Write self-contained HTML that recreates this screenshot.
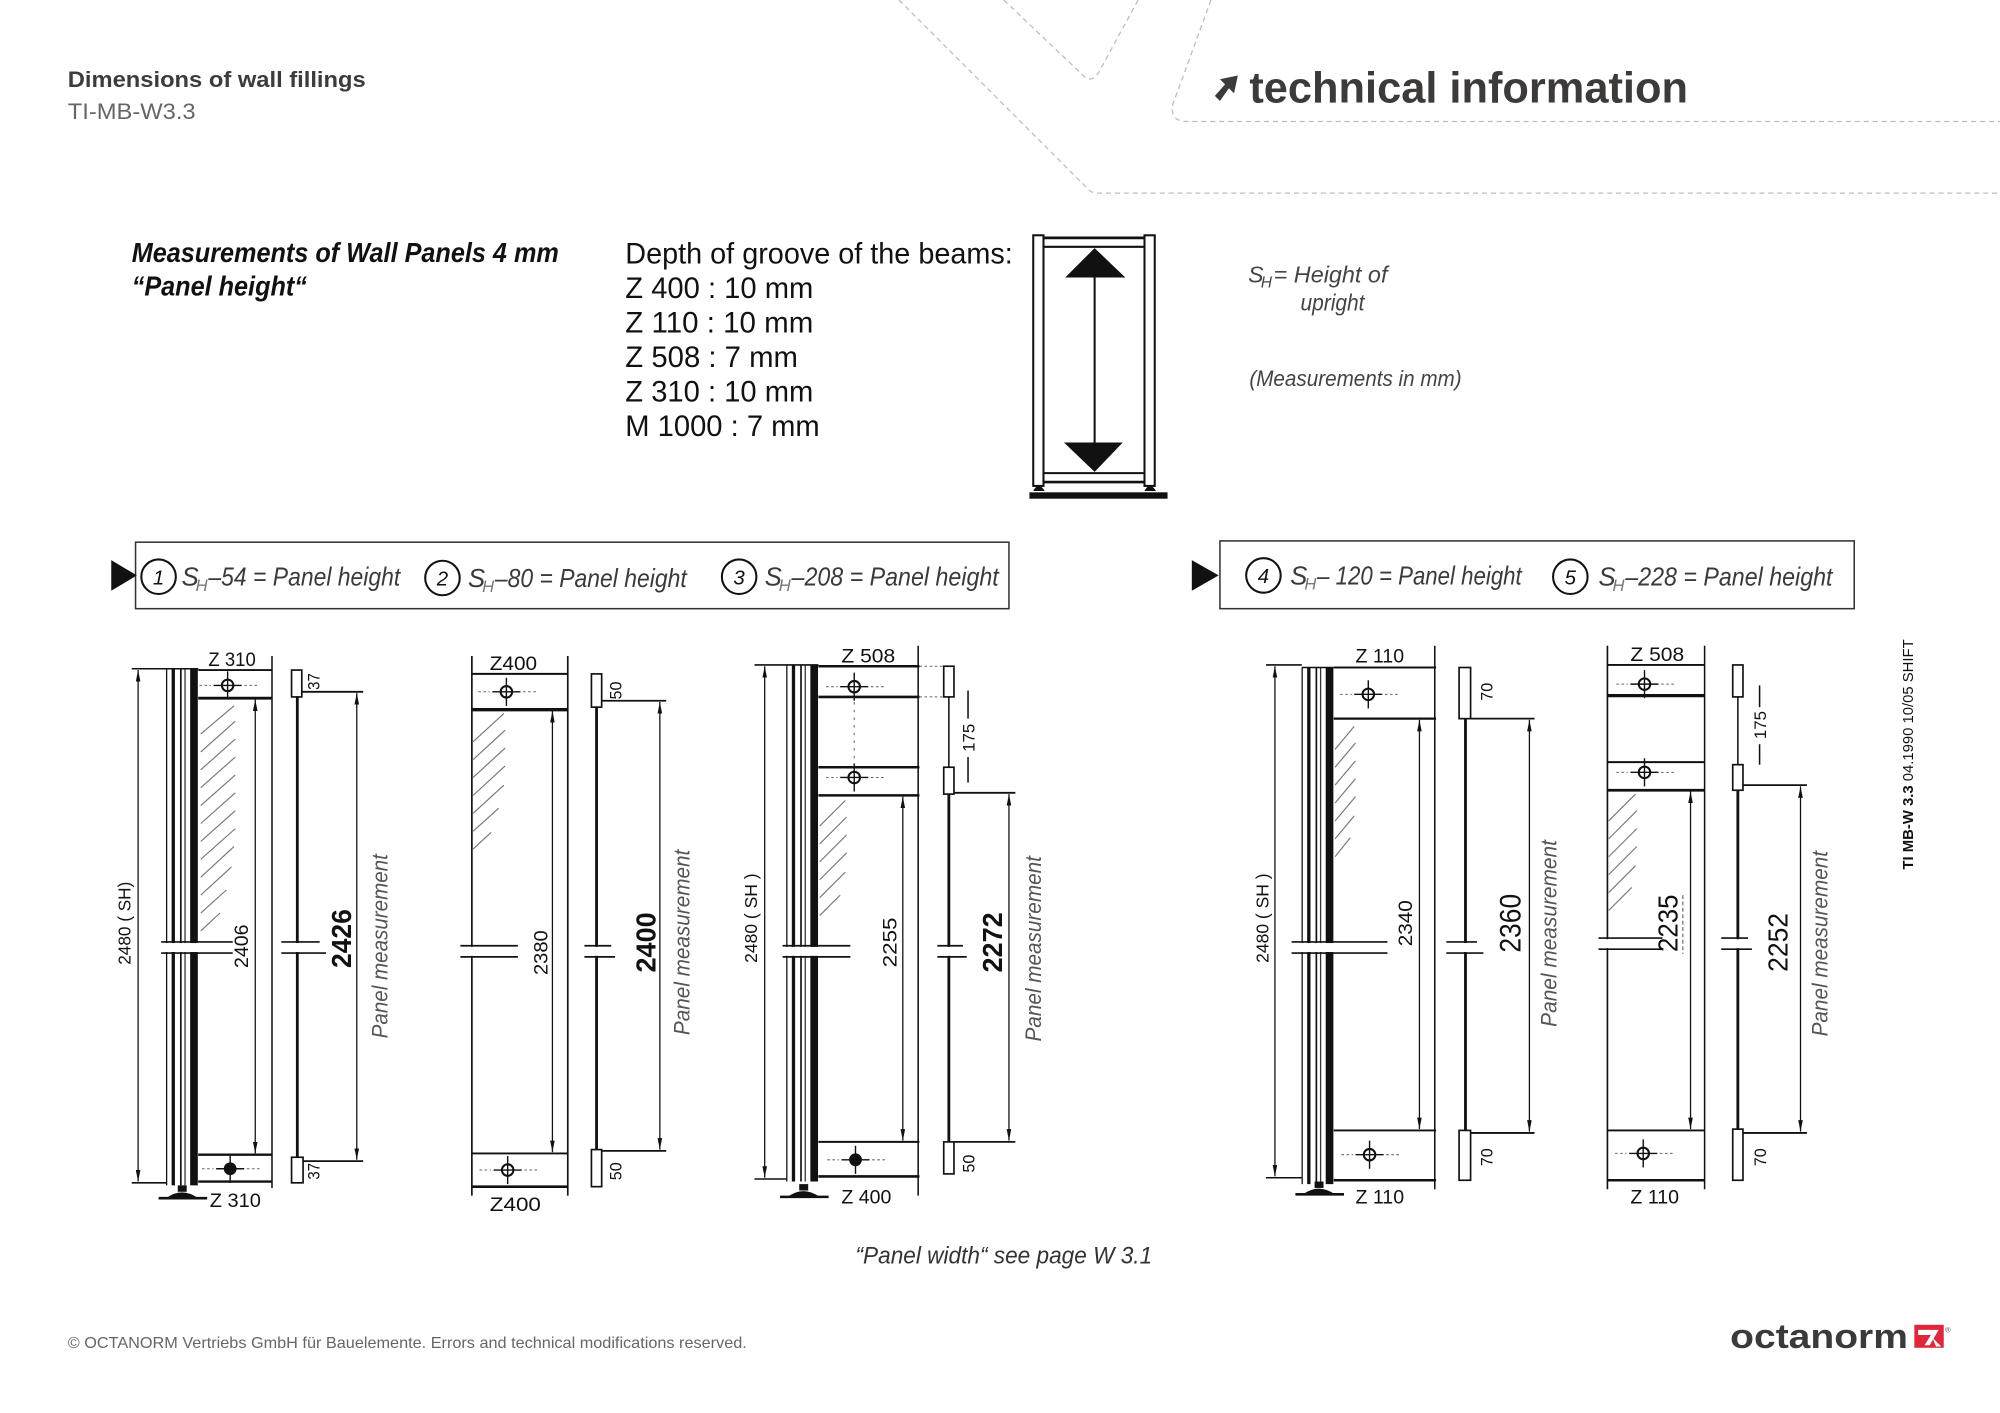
<!DOCTYPE html>
<html><head><meta charset="utf-8"><style>
html,body{margin:0;padding:0;background:#fff;}
svg{display:block;}
.d{stroke:#111;fill:none;}
.t{font-family:"Liberation Sans",sans-serif;fill:#111;}
.it{font-family:"Liberation Sans",sans-serif;font-style:italic;fill:#333;}
.pm{font-family:"Liberation Sans",sans-serif;font-style:italic;fill:#555;font-size:17px;}
.h{stroke:#777;stroke-width:0.9;fill:none;}
</style></head><body>
<svg width="2000" height="1413" viewBox="0 0 1564 1105" preserveAspectRatio="none" xmlns="http://www.w3.org/2000/svg">
<defs>
<marker id="ar" viewBox="0 0 10 4" refX="10" refY="2" markerWidth="9" markerHeight="3.6" markerUnits="userSpaceOnUse" orient="auto-start-reverse"><path d="M0,0 L10,2 L0,4 z" fill="#111"/></marker>
<g id="ch"><circle cx="0" cy="0" r="4.5" fill="none" stroke="#111" stroke-width="1.6"/><line x1="-11" y1="0" x2="11" y2="0" stroke="#111" stroke-width="1.1"/><line x1="0" y1="-11" x2="0" y2="11" stroke="#111" stroke-width="1.1"/><line x1="-22" y1="0" x2="-13" y2="0" stroke="#666" stroke-width="0.8" stroke-dasharray="2 2"/><line x1="13" y1="0" x2="24" y2="0" stroke="#666" stroke-width="0.8" stroke-dasharray="2 2"/></g>
<g id="chf"><circle cx="0" cy="0" r="5" fill="#111"/><line x1="-11" y1="0" x2="11" y2="0" stroke="#111" stroke-width="1.1"/><line x1="0" y1="-11" x2="0" y2="11" stroke="#111" stroke-width="1.1"/><line x1="-22" y1="0" x2="-13" y2="0" stroke="#666" stroke-width="0.8" stroke-dasharray="2 2"/><line x1="13" y1="0" x2="24" y2="0" stroke="#666" stroke-width="0.8" stroke-dasharray="2 2"/></g>
<g id="up">
<line x1="0.3" y1="0" x2="0.3" y2="404" stroke="#111" stroke-width="1"/>
<line x1="5.5" y1="0" x2="5.5" y2="404" stroke="#111" stroke-width="2.6"/>
<line x1="11.4" y1="0" x2="11.4" y2="404" stroke="#111" stroke-width="1.3"/>
<line x1="14.7" y1="0" x2="14.7" y2="404" stroke="#333" stroke-width="1"/>
<line x1="21.7" y1="0" x2="21.7" y2="404" stroke="#111" stroke-width="6"/>
<line x1="0" y1="0" x2="25" y2="0" stroke="#111" stroke-width="1.2"/>
</g>
<g id="foot">
<rect x="9" y="0" width="7" height="5" fill="#111"/>
<path d="M0,10 Q12,1 25,10 z" fill="#111"/>
<line x1="-6" y1="10" x2="32" y2="10" stroke="#111" stroke-width="2"/>
</g>
</defs>

<!-- decorative dashed header lines -->
<g stroke="#bdbdbd" stroke-width="1" fill="none" stroke-dasharray="4 3">
<path d="M703,0 L850,147 Q853,151 858,151 L1564,151"/>
<path d="M785,0 L846,58 Q853,66 859,57 L890,0"/>
<path d="M947,0 L917,82 Q915,95 928,95 L1564,95"/>
</g>

<!-- header -->
<text class="t" x="53" y="68" font-size="17" font-weight="bold" textLength="233" lengthAdjust="spacingAndGlyphs" style="fill:#3c3c3c">Dimensions of wall fillings</text>
<text class="t" x="53" y="93" font-size="17" textLength="100" lengthAdjust="spacingAndGlyphs" style="fill:#666">TI-MB-W3.3</text>
<path d="M950,75 L958,66 L954,62 L968,59 L965,73 L961,69 L954,79 z" fill="#3d3a3a"/>
<text class="t" x="977" y="80" font-size="34" font-weight="bold" textLength="343" lengthAdjust="spacingAndGlyphs" style="fill:#3d3a3a">technical information</text>

<!-- title block -->
<text class="t" x="103" y="205" font-size="22" font-weight="bold" font-style="italic" textLength="334" lengthAdjust="spacingAndGlyphs">Measurements of Wall Panels 4 mm</text>
<text class="t" x="103" y="231" font-size="22" font-weight="bold" font-style="italic" textLength="137" lengthAdjust="spacingAndGlyphs">“Panel height“</text>

<g class="t" font-size="23">
<text x="489" y="206" textLength="303" lengthAdjust="spacingAndGlyphs">Depth of groove of the beams:</text>
<text x="489" y="233" textLength="147" lengthAdjust="spacingAndGlyphs">Z 400 : 10 mm</text>
<text x="489" y="260" textLength="147" lengthAdjust="spacingAndGlyphs">Z 110 : 10 mm</text>
<text x="489" y="287" textLength="135" lengthAdjust="spacingAndGlyphs">Z 508 : 7 mm</text>
<text x="489" y="314" textLength="147" lengthAdjust="spacingAndGlyphs">Z 310 : 10 mm</text>
<text x="489" y="341" textLength="152" lengthAdjust="spacingAndGlyphs">M 1000 : 7 mm</text>
</g>

<!-- frame icon -->
<g>
<rect x="808" y="184" width="8" height="196" fill="#fff" stroke="#111" stroke-width="1.6"/>
<rect x="895" y="184" width="8" height="196" fill="#fff" stroke="#111" stroke-width="1.6"/>
<line x1="816" y1="186" x2="895" y2="186" stroke="#111" stroke-width="2.2"/>
<line x1="816" y1="193" x2="895" y2="193" stroke="#111" stroke-width="1.6"/>
<line x1="816" y1="370" x2="895" y2="370" stroke="#111" stroke-width="1.6"/>
<line x1="816" y1="377" x2="895" y2="377" stroke="#111" stroke-width="2"/>
<polygon points="856,194 833,217 880,217" fill="#111"/>
<polygon points="832,346 878,346 856,369" fill="#111"/>
<line x1="856" y1="216" x2="856" y2="347" stroke="#111" stroke-width="1.6"/>
<path d="M808,384 Q812,376 817,384 z" fill="#111"/>
<path d="M895,384 Q899,376 904,384 z" fill="#111"/>
<rect x="805" y="385" width="108" height="5" fill="#111"/>
</g>

<text class="it" x="976" y="221" font-size="18" style="fill:#444">S</text>
<text class="it" x="986" y="225" font-size="12" style="fill:#444">H</text>
<text class="it" x="996" y="221" font-size="18" textLength="89" lengthAdjust="spacingAndGlyphs" style="fill:#444">= Height of</text>
<text class="it" x="1017" y="243" font-size="18" textLength="50" lengthAdjust="spacingAndGlyphs" style="fill:#444">upright</text>
<text class="it" x="977" y="302" font-size="17" textLength="166" lengthAdjust="spacingAndGlyphs" style="fill:#444">(Measurements in mm)</text>

<!-- formula boxes -->
<rect x="106" y="424" width="683" height="52" fill="none" stroke="#333" stroke-width="1.2"/>
<polygon points="87,438 107,450 87,462" fill="#111"/>
<rect x="954" y="423" width="496" height="53" fill="none" stroke="#333" stroke-width="1.2"/>
<polygon points="932,438 953,450 932,462" fill="#111"/>
<g fill="none" stroke="#111" stroke-width="1.6">
<circle cx="124" cy="451" r="13.5"/><circle cx="346" cy="452" r="13.5"/><circle cx="578" cy="451" r="13.5"/>
<circle cx="988" cy="450" r="13.5"/><circle cx="1228" cy="451" r="13.5"/>
</g>
<g class="it" font-size="16" text-anchor="middle" style="fill:#111">
<text x="124" y="457">1</text><text x="346" y="458">2</text><text x="578" y="457">3</text><text x="988" y="456">4</text><text x="1228" y="457">5</text>
</g>
<g class="it" font-size="20" style="fill:#3a3a3a">
<text x="142" y="458">S</text><text x="153" y="462" font-size="13" style="fill:#777">H</text><text x="163" y="458" textLength="150" lengthAdjust="spacingAndGlyphs">–54 = Panel height</text>
<text x="366" y="459">S</text><text x="377" y="463" font-size="13" style="fill:#777">H</text><text x="387" y="459" textLength="150" lengthAdjust="spacingAndGlyphs">–80 = Panel height</text>
<text x="598" y="458">S</text><text x="609" y="462" font-size="13" style="fill:#777">H</text><text x="619" y="458" textLength="162" lengthAdjust="spacingAndGlyphs">–208 = Panel height</text>
<text x="1009" y="457">S</text><text x="1020" y="461" font-size="13" style="fill:#777">H</text><text x="1030" y="457" textLength="160" lengthAdjust="spacingAndGlyphs">– 120 = Panel height</text>
<text x="1250" y="458">S</text><text x="1261" y="462" font-size="13" style="fill:#777">H</text><text x="1271" y="458" textLength="162" lengthAdjust="spacingAndGlyphs">–228 = Panel height</text>
</g>

<!-- ================= PANEL 1 ================= -->
<g>
<line class="d" x1="103" y1="523" x2="130" y2="523" stroke-width="1.2"/>
<line class="d" x1="103" y1="925" x2="130" y2="925" stroke-width="1.2"/>
<line class="d" x1="108" y1="524" x2="108" y2="924" stroke-width="1" marker-start="url(#ar)" marker-end="url(#ar)"/>
<text class="t" transform="translate(102,722) rotate(-90)" text-anchor="middle" font-size="14" textLength="65" lengthAdjust="spacingAndGlyphs">2480 ( SH)</text>
<use href="#up" x="130" y="523"/>
<use href="#foot" x="130" y="927"/>
<g class="h">
<line x1="157" y1="574" x2="183" y2="552"/><line x1="157" y1="588" x2="184" y2="564"/><line x1="157" y1="602" x2="184" y2="578"/><line x1="157" y1="616" x2="184" y2="592"/><line x1="157" y1="630" x2="184" y2="606"/><line x1="157" y1="644" x2="184" y2="620"/><line x1="157" y1="658" x2="184" y2="634"/><line x1="157" y1="672" x2="184" y2="648"/><line x1="157" y1="686" x2="183" y2="662"/><line x1="157" y1="700" x2="181" y2="678"/><line x1="157" y1="714" x2="177" y2="696"/><line x1="157" y1="728" x2="172" y2="714"/>
</g>
<line class="d" x1="155" y1="524" x2="213" y2="524" stroke-width="1.5"/>
<line class="d" x1="155" y1="546" x2="213" y2="546" stroke-width="2.2"/>
<line class="d" x1="155" y1="903" x2="213" y2="903" stroke-width="1.8"/>
<line class="d" x1="155" y1="924" x2="213" y2="924" stroke-width="1.8"/>
<line class="d" x1="212.7" y1="513" x2="212.7" y2="929" stroke-width="1.2"/>
<use href="#ch" x="178" y="536"/>
<use href="#chf" x="180" y="914"/>
<text class="t" x="163" y="521" font-size="15" textLength="37" lengthAdjust="spacingAndGlyphs">Z 310</text>
<text class="t" x="164" y="944" font-size="15" textLength="40" lengthAdjust="spacingAndGlyphs">Z 310</text>
<line class="d" x1="199.6" y1="547" x2="199.6" y2="902" stroke-width="1" marker-start="url(#ar)" marker-end="url(#ar)"/>
<text class="t" transform="translate(194,740) rotate(-90)" text-anchor="middle" font-size="15" textLength="34" lengthAdjust="spacingAndGlyphs">2406</text>
<rect x="228" y="524" width="8" height="21" fill="#fff" stroke="#111" stroke-width="1.3"/>
<rect x="228" y="905" width="9" height="20" fill="#fff" stroke="#111" stroke-width="1.3"/>
<line class="d" x1="232.5" y1="545" x2="232.5" y2="905" stroke-width="2.2"/>
<text class="t" transform="translate(250,533) rotate(-90)" text-anchor="middle" font-size="13" textLength="13" lengthAdjust="spacingAndGlyphs">37</text>
<text class="t" transform="translate(250,916) rotate(-90)" text-anchor="middle" font-size="13" textLength="13" lengthAdjust="spacingAndGlyphs">37</text>
<line class="d" x1="236" y1="541" x2="284" y2="541" stroke-width="1.4"/>
<line class="d" x1="237" y1="908" x2="284" y2="908" stroke-width="1.4"/>
<line class="d" x1="279" y1="542" x2="279" y2="907" stroke-width="1" marker-start="url(#ar)" marker-end="url(#ar)"/>
<rect x="258" y="708" width="18" height="52" fill="#fff"/>
<text class="t" transform="translate(274.5,734) rotate(-90)" text-anchor="middle" font-size="22" font-weight="bold" textLength="46" lengthAdjust="spacingAndGlyphs">2426</text>
<text class="pm" transform="translate(303,740) rotate(-90)" text-anchor="middle" textLength="144" lengthAdjust="spacingAndGlyphs">Panel measurement</text>
<rect x="125" y="737.5" width="58" height="7" fill="#fff"/>
<line class="d" x1="126" y1="736.6" x2="182" y2="736.6" stroke-width="1.3"/>
<line class="d" x1="126" y1="745.3" x2="182" y2="745.3" stroke-width="1.3"/>
<rect x="222" y="737.5" width="32" height="7" fill="#fff"/>
<line class="d" x1="220" y1="736.6" x2="250" y2="736.6" stroke-width="1.3"/>
<line class="d" x1="220" y1="745.3" x2="255" y2="745.3" stroke-width="1.3"/>
</g>

<!-- ================= PANEL 2 ================= -->
<g>
<line class="d" x1="369" y1="513" x2="369" y2="935" stroke-width="1.3"/>
<line class="d" x1="444" y1="513" x2="444" y2="935" stroke-width="1.3"/>
<g class="h">
<line x1="370" y1="580" x2="394" y2="558"/><line x1="370" y1="594" x2="395" y2="571"/><line x1="370" y1="608" x2="395" y2="585"/><line x1="370" y1="622" x2="395" y2="599"/><line x1="370" y1="636" x2="394" y2="614"/><line x1="370" y1="650" x2="390" y2="632"/><line x1="370" y1="664" x2="384" y2="651"/>
</g>
<line class="d" x1="369" y1="527" x2="444" y2="527" stroke-width="1.5"/>
<line class="d" x1="369" y1="555" x2="444" y2="555" stroke-width="2.6"/>
<line class="d" x1="369" y1="902" x2="444" y2="902" stroke-width="1.5"/>
<line class="d" x1="369" y1="928" x2="444" y2="928" stroke-width="2"/>
<use href="#ch" x="396" y="541"/>
<use href="#ch" x="397" y="915"/>
<text class="t" x="383" y="524" font-size="15" textLength="37" lengthAdjust="spacingAndGlyphs">Z400</text>
<text class="t" x="383" y="947" font-size="15" textLength="40" lengthAdjust="spacingAndGlyphs">Z400</text>
<line class="d" x1="432" y1="556" x2="432" y2="901" stroke-width="1" marker-start="url(#ar)" marker-end="url(#ar)"/>
<text class="t" transform="translate(428,745) rotate(-90)" text-anchor="middle" font-size="15" textLength="35" lengthAdjust="spacingAndGlyphs">2380</text>
<rect x="462.5" y="527" width="8" height="26" fill="#fff" stroke="#111" stroke-width="1.3"/>
<rect x="462.5" y="899" width="8" height="29" fill="#fff" stroke="#111" stroke-width="1.3"/>
<line class="d" x1="466.5" y1="553" x2="466.5" y2="899" stroke-width="2.2"/>
<text class="t" transform="translate(486,540) rotate(-90)" text-anchor="middle" font-size="13" textLength="14" lengthAdjust="spacingAndGlyphs">50</text>
<text class="t" transform="translate(486,916) rotate(-90)" text-anchor="middle" font-size="13" textLength="14" lengthAdjust="spacingAndGlyphs">50</text>
<line class="d" x1="470" y1="548" x2="521" y2="548" stroke-width="1.4"/>
<line class="d" x1="470" y1="900" x2="521" y2="900" stroke-width="1.4"/>
<line class="d" x1="516" y1="549" x2="516" y2="899" stroke-width="1" marker-start="url(#ar)" marker-end="url(#ar)"/>
<rect x="496" y="710" width="18" height="54" fill="#fff"/>
<text class="t" transform="translate(512.5,737) rotate(-90)" text-anchor="middle" font-size="22" font-weight="bold" textLength="47" lengthAdjust="spacingAndGlyphs">2400</text>
<text class="pm" transform="translate(539,737) rotate(-90)" text-anchor="middle" textLength="145" lengthAdjust="spacingAndGlyphs">Panel measurement</text>
<rect x="362" y="740.5" width="12" height="7" fill="#fff"/>
<line class="d" x1="360" y1="739.6" x2="405" y2="739.6" stroke-width="1.3"/>
<line class="d" x1="360" y1="748.3" x2="405" y2="748.3" stroke-width="1.3"/>
<rect x="458" y="740.5" width="24" height="7" fill="#fff"/>
<line class="d" x1="457" y1="739.6" x2="478" y2="739.6" stroke-width="1.3"/>
<line class="d" x1="457" y1="748.3" x2="481" y2="748.3" stroke-width="1.3"/>
</g>

<!-- ================= PANEL 3 ================= -->
<g>
<line class="d" x1="590" y1="520" x2="615" y2="520" stroke-width="1.2"/>
<line class="d" x1="590" y1="922" x2="615" y2="922" stroke-width="1.2"/>
<line class="d" x1="598" y1="521" x2="598" y2="921" stroke-width="1" marker-start="url(#ar)" marker-end="url(#ar)"/>
<text class="t" transform="translate(592,718) rotate(-90)" text-anchor="middle" font-size="14" textLength="70" lengthAdjust="spacingAndGlyphs">2480 ( SH )</text>
<use href="#up" x="615" y="520"/>
<use href="#foot" x="616" y="926"/>
<g class="h">
<line x1="641" y1="646" x2="661" y2="626"/><line x1="641" y1="660" x2="662" y2="639"/><line x1="641" y1="674" x2="662" y2="653"/><line x1="641" y1="688" x2="662" y2="667"/><line x1="641" y1="702" x2="661" y2="682"/><line x1="641" y1="716" x2="657" y2="700"/>
</g>
<line class="d" x1="640" y1="521" x2="719" y2="521" stroke-width="2"/>
<line class="d" x1="640" y1="545" x2="719" y2="545" stroke-width="2"/>
<line class="d" x1="640" y1="600" x2="719" y2="600" stroke-width="2"/>
<line class="d" x1="640" y1="622" x2="719" y2="622" stroke-width="2"/>
<line class="d" x1="640" y1="893" x2="719" y2="893" stroke-width="1.6"/>
<line class="d" x1="640" y1="920" x2="719" y2="920" stroke-width="2"/>
<line class="d" x1="718" y1="505" x2="718" y2="935" stroke-width="1.2"/>
<line x1="719" y1="521" x2="740" y2="521" stroke="#666" stroke-width="0.8" stroke-dasharray="2 2"/>
<line x1="719" y1="545" x2="740" y2="545" stroke="#666" stroke-width="0.8" stroke-dasharray="2 2"/>
<line x1="668" y1="549" x2="668" y2="596" stroke="#666" stroke-width="0.8" stroke-dasharray="2 4"/>
<use href="#ch" x="668" y="537"/>
<use href="#ch" x="668" y="608"/>
<use href="#chf" x="669" y="907"/>
<text class="t" x="658" y="518" font-size="15" textLength="42" lengthAdjust="spacingAndGlyphs">Z 508</text>
<text class="t" x="658" y="941" font-size="15" textLength="39" lengthAdjust="spacingAndGlyphs">Z 400</text>
<line class="d" x1="706" y1="623" x2="706" y2="892" stroke-width="1" marker-start="url(#ar)" marker-end="url(#ar)"/>
<text class="t" transform="translate(701,737) rotate(-90)" text-anchor="middle" font-size="15" textLength="39" lengthAdjust="spacingAndGlyphs">2255</text>
<rect x="738" y="521" width="8" height="24" fill="#fff" stroke="#111" stroke-width="1.3"/>
<rect x="738" y="600" width="8" height="21" fill="#fff" stroke="#111" stroke-width="1.3"/>
<rect x="738" y="893" width="8" height="25" fill="#fff" stroke="#111" stroke-width="1.3"/>
<line class="d" x1="742" y1="545" x2="742" y2="600" stroke-width="1.2"/>
<line class="d" x1="742" y1="621" x2="742" y2="893" stroke-width="2.2"/>
<line class="d" x1="757" y1="540" x2="757" y2="562" stroke-width="1.2"/>
<line class="d" x1="757" y1="592" x2="757" y2="612" stroke-width="1.2"/>
<text class="t" transform="translate(762,577) rotate(-90)" text-anchor="middle" font-size="13" textLength="22" lengthAdjust="spacingAndGlyphs">175</text>
<text class="t" transform="translate(762,910) rotate(-90)" text-anchor="middle" font-size="13" textLength="14" lengthAdjust="spacingAndGlyphs">50</text>
<line class="d" x1="746" y1="620" x2="794" y2="620" stroke-width="1.4"/>
<line class="d" x1="746" y1="893" x2="794" y2="893" stroke-width="1.4"/>
<line class="d" x1="789" y1="621" x2="789" y2="892" stroke-width="1" marker-start="url(#ar)" marker-end="url(#ar)"/>
<rect x="768" y="710" width="19" height="54" fill="#fff"/>
<text class="t" transform="translate(783.5,737) rotate(-90)" text-anchor="middle" font-size="22" font-weight="bold" textLength="47" lengthAdjust="spacingAndGlyphs">2272</text>
<text class="pm" transform="translate(814,742) rotate(-90)" text-anchor="middle" textLength="145" lengthAdjust="spacingAndGlyphs">Panel measurement</text>
<rect x="612" y="740.5" width="50" height="7" fill="#fff"/>
<line class="d" x1="612" y1="739.6" x2="665" y2="739.6" stroke-width="1.3"/>
<line class="d" x1="612" y1="748.3" x2="665" y2="748.3" stroke-width="1.3"/>
<rect x="735" y="740.5" width="20" height="7" fill="#fff"/>
<line class="d" x1="733" y1="739.6" x2="753" y2="739.6" stroke-width="1.3"/>
<line class="d" x1="733" y1="748.3" x2="756" y2="748.3" stroke-width="1.3"/>
</g>

<!-- ================= PANEL 4 ================= -->
<g>
<line class="d" x1="990" y1="520" x2="1018" y2="520" stroke-width="1.2"/>
<line class="d" x1="990" y1="921" x2="1018" y2="921" stroke-width="1.2"/>
<line class="d" x1="997" y1="521" x2="997" y2="920" stroke-width="1" marker-start="url(#ar)" marker-end="url(#ar)"/>
<text class="t" transform="translate(992,718) rotate(-90)" text-anchor="middle" font-size="14" textLength="70" lengthAdjust="spacingAndGlyphs">2480 ( SH )</text>
<use href="#up" x="1018" y="522"/>
<use href="#foot" x="1019" y="924"/>
<g class="h">
<line x1="1044" y1="586" x2="1059" y2="568"/><line x1="1044" y1="600" x2="1060" y2="581"/><line x1="1044" y1="614" x2="1060" y2="595"/><line x1="1044" y1="628" x2="1060" y2="609"/><line x1="1044" y1="642" x2="1060" y2="623"/><line x1="1044" y1="656" x2="1059" y2="638"/><line x1="1044" y1="670" x2="1056" y2="655"/>
</g>
<line class="d" x1="1043" y1="522" x2="1123" y2="522" stroke-width="1.5"/>
<line class="d" x1="1043" y1="562" x2="1123" y2="562" stroke-width="1.8"/>
<line class="d" x1="1043" y1="884" x2="1123" y2="884" stroke-width="1.5"/>
<line class="d" x1="1043" y1="923" x2="1123" y2="923" stroke-width="2"/>
<line class="d" x1="1122" y1="505" x2="1122" y2="930" stroke-width="1.2"/>
<use href="#ch" x="1070" y="543"/>
<use href="#ch" x="1071" y="903"/>
<text class="t" x="1060" y="518" font-size="15" textLength="38" lengthAdjust="spacingAndGlyphs">Z 110</text>
<text class="t" x="1060" y="941" font-size="15" textLength="38" lengthAdjust="spacingAndGlyphs">Z 110</text>
<line class="d" x1="1110" y1="563" x2="1110" y2="883" stroke-width="1" marker-start="url(#ar)" marker-end="url(#ar)"/>
<text class="t" transform="translate(1104,722) rotate(-90)" text-anchor="middle" font-size="15" textLength="36" lengthAdjust="spacingAndGlyphs">2340</text>
<rect x="1141" y="522" width="9" height="40" fill="#fff" stroke="#111" stroke-width="1.3"/>
<rect x="1141" y="884" width="9" height="39" fill="#fff" stroke="#111" stroke-width="1.3"/>
<line class="d" x1="1146" y1="562" x2="1146" y2="884" stroke-width="2.2"/>
<text class="t" transform="translate(1167,541) rotate(-90)" text-anchor="middle" font-size="13" textLength="14" lengthAdjust="spacingAndGlyphs">70</text>
<text class="t" transform="translate(1167,905) rotate(-90)" text-anchor="middle" font-size="13" textLength="14" lengthAdjust="spacingAndGlyphs">70</text>
<line class="d" x1="1150" y1="562" x2="1200" y2="562" stroke-width="1.4"/>
<line class="d" x1="1150" y1="886" x2="1200" y2="886" stroke-width="1.4"/>
<line class="d" x1="1196" y1="563" x2="1196" y2="885" stroke-width="1" marker-start="url(#ar)" marker-end="url(#ar)"/>
<text class="t" transform="translate(1189,722) rotate(-90)" text-anchor="middle" font-size="23" textLength="46" lengthAdjust="spacingAndGlyphs">2360</text>
<text class="pm" transform="translate(1217,730) rotate(-90)" text-anchor="middle" textLength="146" lengthAdjust="spacingAndGlyphs">Panel measurement</text>
<rect x="1015" y="737.5" width="32" height="7" fill="#fff"/>
<line class="d" x1="1010" y1="736.6" x2="1085" y2="736.6" stroke-width="1.3"/>
<line class="d" x1="1010" y1="745.3" x2="1085" y2="745.3" stroke-width="1.3"/>
<rect x="1134" y="737.5" width="24" height="7" fill="#fff"/>
<line class="d" x1="1131" y1="736.6" x2="1155" y2="736.6" stroke-width="1.3"/>
<line class="d" x1="1131" y1="745.3" x2="1160" y2="745.3" stroke-width="1.3"/>
</g>

<!-- ================= PANEL 5 ================= -->
<g>
<line class="d" x1="1257" y1="505" x2="1257" y2="930" stroke-width="1.3"/>
<line class="d" x1="1333" y1="505" x2="1333" y2="930" stroke-width="1.2"/>
<g class="h">
<line x1="1258" y1="642" x2="1279" y2="621"/><line x1="1258" y1="656" x2="1280" y2="634"/><line x1="1258" y1="670" x2="1280" y2="648"/><line x1="1258" y1="684" x2="1280" y2="662"/><line x1="1258" y1="698" x2="1279" y2="677"/><line x1="1258" y1="712" x2="1276" y2="694"/>
</g>
<line class="d" x1="1257" y1="520" x2="1333" y2="520" stroke-width="1.5"/>
<line class="d" x1="1257" y1="544" x2="1333" y2="544" stroke-width="2.6"/>
<line class="d" x1="1257" y1="596" x2="1333" y2="596" stroke-width="1.6"/>
<line class="d" x1="1257" y1="618" x2="1333" y2="618" stroke-width="2.2"/>
<line class="d" x1="1257" y1="884" x2="1333" y2="884" stroke-width="1.5"/>
<line class="d" x1="1257" y1="923" x2="1333" y2="923" stroke-width="2"/>
<use href="#ch" x="1286" y="535"/>
<use href="#ch" x="1286" y="604"/>
<use href="#ch" x="1285" y="902"/>
<text class="t" x="1275" y="517" font-size="15" textLength="42" lengthAdjust="spacingAndGlyphs">Z 508</text>
<text class="t" x="1275" y="941" font-size="15" textLength="38" lengthAdjust="spacingAndGlyphs">Z 110</text>
<line class="d" x1="1322" y1="619" x2="1322" y2="883" stroke-width="1" marker-start="url(#ar)" marker-end="url(#ar)"/>
<line x1="1316" y1="700" x2="1316" y2="746" stroke="#555" stroke-width="0.8" stroke-dasharray="3 2"/>
<text class="t" transform="translate(1312,722) rotate(-90)" text-anchor="middle" font-size="22" textLength="45" lengthAdjust="spacingAndGlyphs">2235</text>
<rect x="1355" y="520" width="8" height="25" fill="#fff" stroke="#111" stroke-width="1.3"/>
<rect x="1355" y="598" width="8" height="20" fill="#fff" stroke="#111" stroke-width="1.3"/>
<rect x="1355" y="883" width="8" height="40" fill="#fff" stroke="#111" stroke-width="1.3"/>
<line class="d" x1="1359" y1="545" x2="1359" y2="598" stroke-width="1.2"/>
<line class="d" x1="1359" y1="618" x2="1359" y2="883" stroke-width="2.2"/>
<line class="d" x1="1376" y1="536" x2="1376" y2="553" stroke-width="1.2"/>
<line class="d" x1="1376" y1="582" x2="1376" y2="598" stroke-width="1.2"/>
<text class="t" transform="translate(1381,567) rotate(-90)" text-anchor="middle" font-size="13" textLength="22" lengthAdjust="spacingAndGlyphs">175</text>
<text class="t" transform="translate(1381,905) rotate(-90)" text-anchor="middle" font-size="13" textLength="14" lengthAdjust="spacingAndGlyphs">70</text>
<line class="d" x1="1363" y1="614" x2="1413" y2="614" stroke-width="1.4"/>
<line class="d" x1="1363" y1="886" x2="1413" y2="886" stroke-width="1.4"/>
<line class="d" x1="1408" y1="615" x2="1408" y2="885" stroke-width="1" marker-start="url(#ar)" marker-end="url(#ar)"/>
<rect x="1382" y="711" width="19" height="54" fill="#fff"/>
<text class="t" transform="translate(1398,737) rotate(-90)" text-anchor="middle" font-size="22" textLength="46" lengthAdjust="spacingAndGlyphs">2252</text>
<text class="pm" transform="translate(1429,738) rotate(-90)" text-anchor="middle" textLength="145" lengthAdjust="spacingAndGlyphs">Panel measurement</text>
<rect x="1251" y="734.5" width="14" height="7" fill="#fff"/>
<line class="d" x1="1250" y1="733.6" x2="1300" y2="733.6" stroke-width="1.3"/>
<line class="d" x1="1250" y1="742.3" x2="1300" y2="742.3" stroke-width="1.3"/>
<rect x="1348" y="734.5" width="22" height="7" fill="#fff"/>
<line class="d" x1="1346" y1="733.6" x2="1367" y2="733.6" stroke-width="1.3"/>
<line class="d" x1="1346" y1="742.3" x2="1370" y2="742.3" stroke-width="1.3"/>
</g>

<!-- side vertical doc id -->
<text class="t" transform="translate(1496,590) rotate(-90)" text-anchor="middle" font-size="11.5" textLength="180" lengthAdjust="spacingAndGlyphs"><tspan font-weight="bold">TI MB-W 3.3</tspan> 04.1990 10/05 SHIFT</text>

<!-- footer -->
<text class="it" x="669" y="988" font-size="19" textLength="232" lengthAdjust="spacingAndGlyphs" style="fill:#333">“Panel width“ see page W 3.1</text>
<text class="t" x="53" y="1054" font-size="12.5" textLength="531" lengthAdjust="spacingAndGlyphs" style="fill:#666">© OCTANORM Vertriebs GmbH für Bauelemente. Errors and technical modifications reserved.</text>
<text class="t" x="1353" y="1054" font-size="27" font-weight="bold" textLength="139" lengthAdjust="spacingAndGlyphs" style="fill:#3a3a3a">octanorm</text>
<g>
<rect x="1497" y="1036" width="23" height="18" fill="#e0263a"/>
<path d="M1500,1040 L1516,1040 L1509,1052 L1505,1052 L1510,1044 L1500,1044 z" fill="#fff"/>
<path d="M1511,1046 L1518,1053 L1514,1053 z" fill="#fff"/>
<text class="t" x="1521" y="1042" font-size="6" style="fill:#555">®</text>
</g>
</svg>
</body></html>
